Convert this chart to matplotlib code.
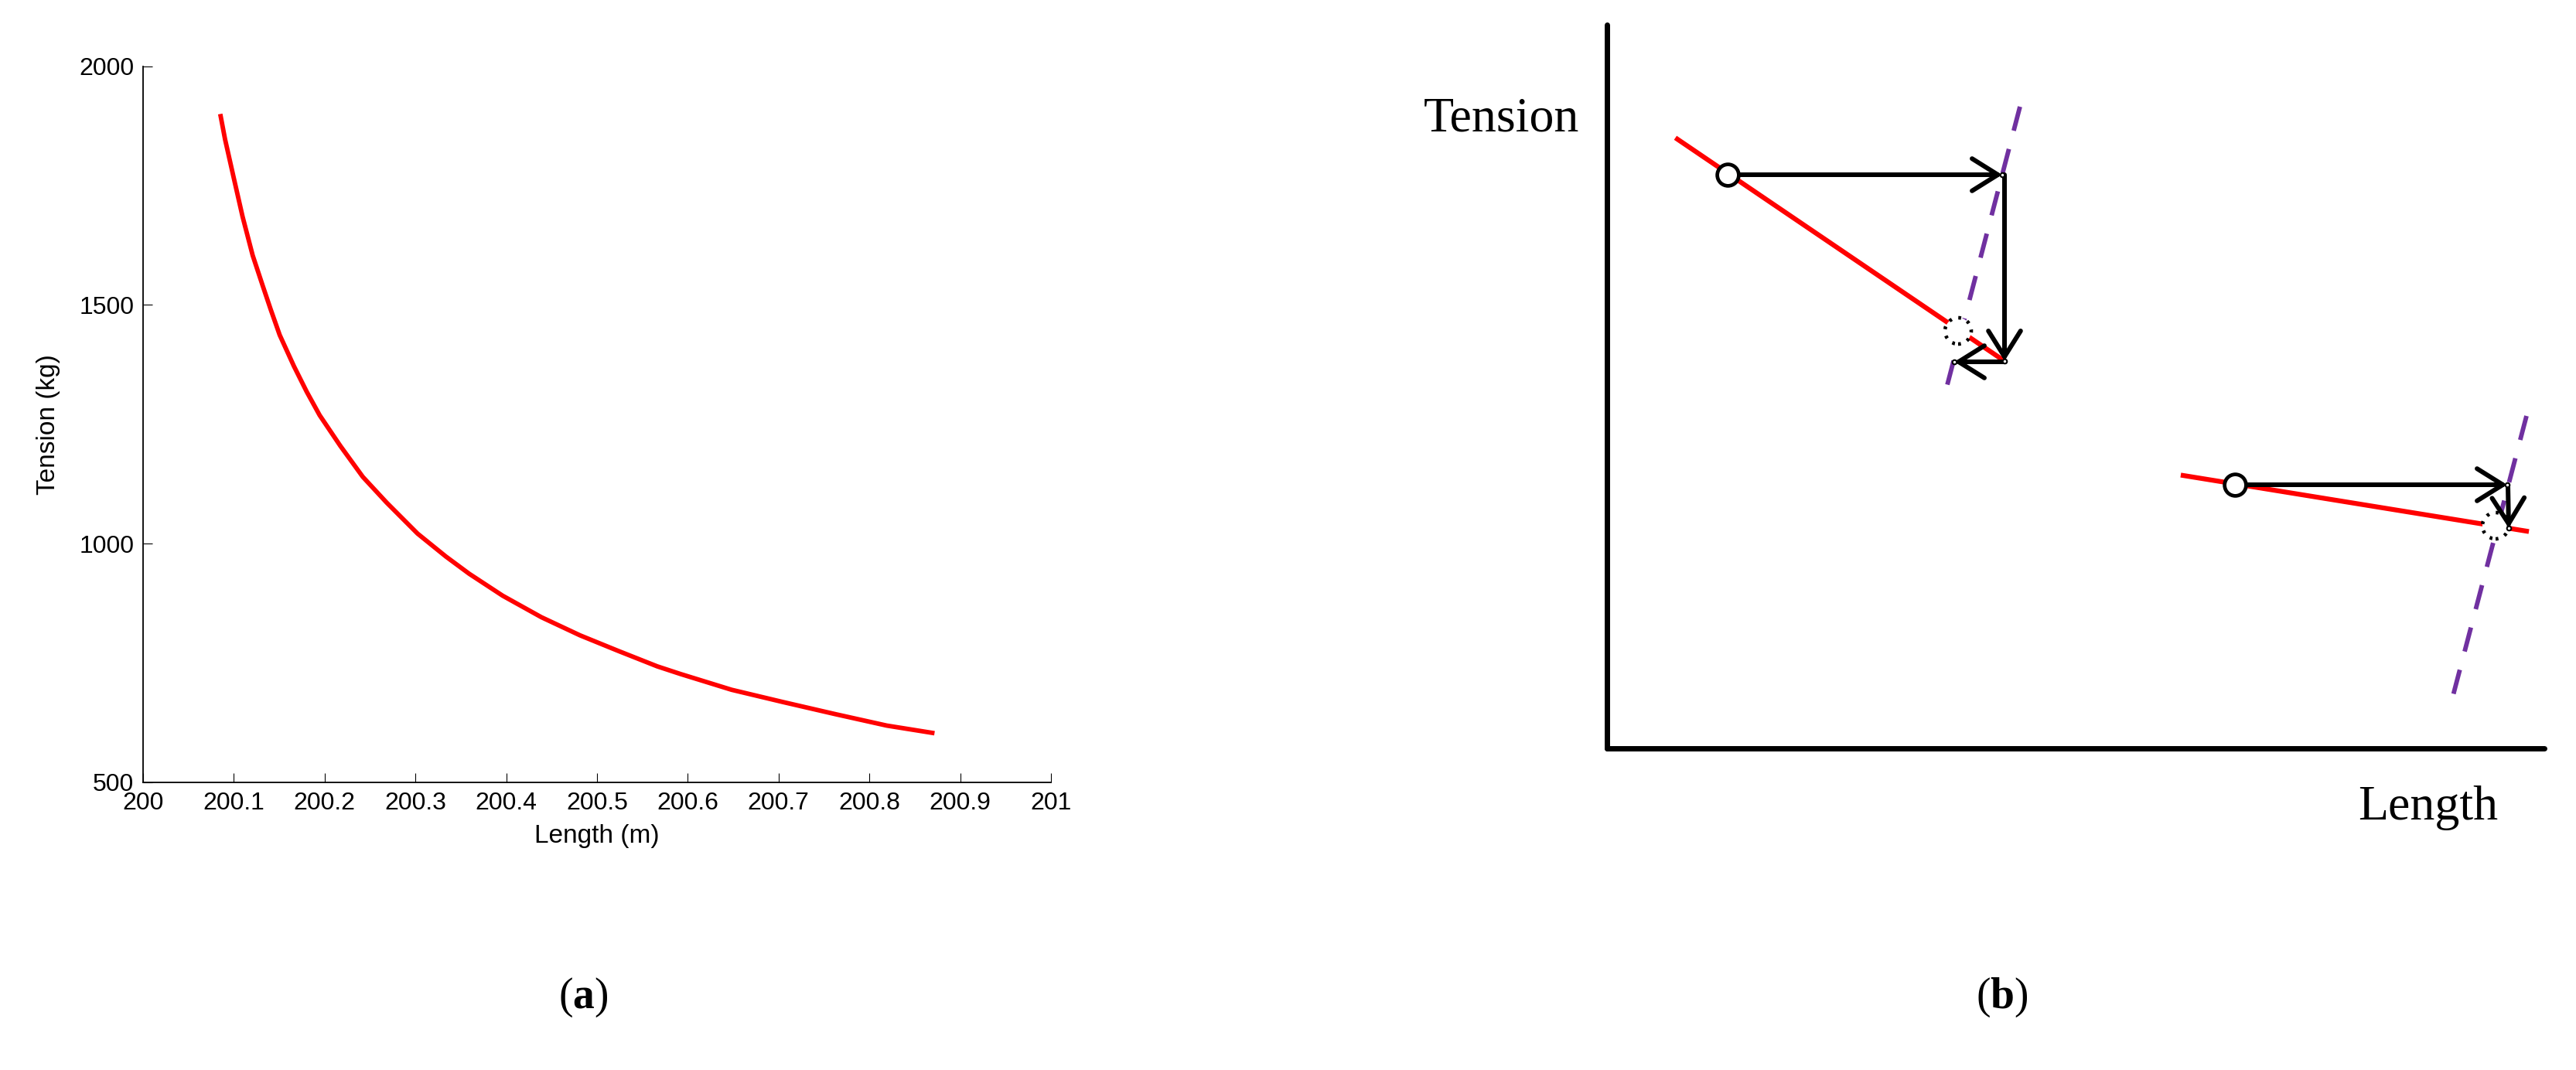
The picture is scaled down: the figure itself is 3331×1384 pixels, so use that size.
import matplotlib

matplotlib.use("Agg")
import matplotlib.pyplot as plt
from matplotlib.patches import Circle, FancyArrowPatch

# (a) cable tension against length
length_m = [200.085, 200.0903, 200.0999, 200.1096, 200.1207, 200.1320, 200.1405,
            200.1505, 200.1661, 200.1803, 200.1945, 200.2172, 200.242, 200.2683,
            200.3024, 200.3336, 200.3592, 200.3961, 200.4387, 200.4813, 200.5239,
            200.5664, 200.592, 200.6482, 200.7055, 200.7624, 200.8191, 200.8717]
tension_kg = [1900, 1847, 1766, 1685, 1604, 1539, 1491,
              1437, 1372, 1318, 1269, 1205, 1140, 1086,
              1021, 973, 937, 891, 846, 808, 775,
              743, 727, 694, 668, 643, 619, 603]
x_ticks = [200, 200.1, 200.2, 200.3, 200.4, 200.5, 200.6, 200.7, 200.8, 200.9, 201]
x_tick_labels = ["200", "200.1", "200.2", "200.3", "200.4", "200.5",
                 "200.6", "200.7", "200.8", "200.9", "201"]
y_ticks = [500, 1000, 1500, 2000]

# (b) schematic, in drawing units measured from the axes corner
red_upper_x = [91, 511]
red_upper_y = [788, 503]
red_lower_x = [745, 1189]
red_lower_y = [353, 281]
purple_upper_x = [534, 435]
purple_upper_y = [830, 451]
purple_lower_x = [1189, 1090]
purple_lower_y = [430, 53]
start_x = [156, 812]
start_y = [742, 341]
converged_x = [454, 1149]
converged_y = [540, 288]
# iteration steps as (x_from, y_from, x_to, y_to)
steps = [
    (156, 742, 511, 742),
    (514, 742, 514, 501),
    (515, 500, 449, 500),
    (812, 341, 1164, 341),
    (1165, 341, 1166, 285),
]

RED = "#ff0000"
PURPLE = "#7030a0"
SANS = ["Liberation Sans", "DejaVu Sans"]
SERIF = ["Liberation Serif", "DejaVu Serif"]

plt.rcParams["mathtext.fontset"] = "custom"
plt.rcParams["mathtext.rm"] = "Liberation Serif"
plt.rcParams["mathtext.bf"] = "Liberation Serif:bold"

fig = plt.figure(figsize=(33.31, 13.84), dpi=100)

# ---- panel (a): MATLAB-style line plot
ax = fig.add_axes([0.05554, 0.26879, 0.35245, 0.66929])
ax.plot(length_m, tension_kg, color=RED, lw=4.2, solid_capstyle="butt",
        solid_joinstyle="round")
ax.set_xlim(200, 201)
ax.set_ylim(500, 2000)
ax.set_xticks(x_ticks, labels=x_tick_labels)
ax.set_yticks(y_ticks)
ax.tick_params(direction="in", length=8.5, width=0.8, labelsize=23, pad=8.5)
for lab in ax.get_xticklabels() + ax.get_yticklabels():
    lab.set_family(SANS)
for side in ("top", "right"):
    ax.spines[side].set_visible(False)
for side in ("left", "bottom"):
    ax.spines[side].set_linewidth(1.3)
ax.set_xlabel("Length (m)", fontsize=24, family=SANS, labelpad=9)
ax.set_ylabel("Tension (kg)", fontsize=24, family=SANS, labelpad=17)

# ---- panel (b): iteration sketch
bx = fig.add_axes([0.62384, 0.30058, 0.36385, 0.6763])
bx.set_xlim(0, 1212)
bx.set_ylim(0, 936)
bx.set_xticks([])
bx.set_yticks([])
for side in ("top", "right"):
    bx.spines[side].set_visible(False)
for side in ("left", "bottom"):
    bx.spines[side].set_linewidth(5)
    bx.spines[side].set_capstyle("round")

bx.plot(red_upper_x, red_upper_y, color=RED, lw=4.5, zorder=2)
bx.plot(red_lower_x, red_lower_y, color=RED, lw=4.5, zorder=2)
for px, py in [(purple_upper_x, purple_upper_y), (purple_lower_x, purple_lower_y)]:
    bx.plot(px, py, color=PURPLE, lw=4.2, ls=(0, (5.5, 4.2)), zorder=3)

for cx, cy in zip(converged_x, converged_y):
    bx.add_patch(Circle((cx, cy), 17, facecolor="white", edgecolor="black",
                        lw=3.3, ls=(0, (0.8, 1.9)), zorder=4))

for x0, y0, x1, y1 in steps:
    bx.add_patch(FancyArrowPatch((x0, y0), (x1, y1),
                                 arrowstyle="->,head_length=24,head_width=15",
                                 mutation_scale=1, lw=4.3, color="black",
                                 shrinkA=0, shrinkB=0, capstyle="round",
                                 joinstyle="round", zorder=5))
    bx.plot(x1, y1, "o", ms=4, mfc="white", mec="black", mew=1.5, zorder=6)

bx.plot(start_x, start_y, "o", ls="none", ms=20, mfc="white", mec="black",
        mew=3.4, zorder=7)

fig.text(1942 / 3331, 1 - 154 / 1384, "Tension", fontsize=46, family=SERIF,
         ha="center", va="center")
fig.text(3140 / 3331, 1 - 1045 / 1384, "Length", fontsize=46, family=SERIF,
         ha="center", va="center")

# sub-figure captions
fig.text(754 / 3331, 1 - 1290 / 1384, r"($\mathbf{a}$)", fontsize=40,
         family=SERIF, ha="center", va="center")
fig.text(2589 / 3331, 1 - 1290 / 1384, r"($\mathbf{b}$)", fontsize=40,
         family=SERIF, ha="center", va="center")

fig.savefig("out.png", dpi=100)
